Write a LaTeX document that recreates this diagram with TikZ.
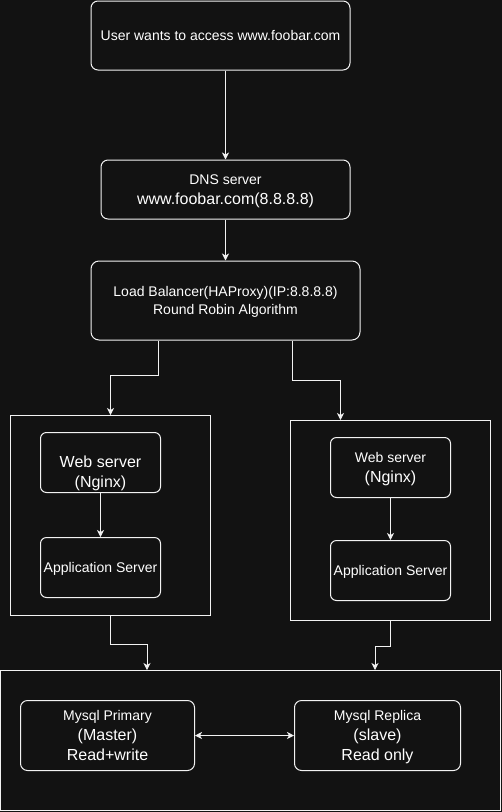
\documentclass[tikz,border=0pt]{standalone}
\usepackage{fontspec}
\setmainfont{Liberation Sans}
\usetikzlibrary{arrows.meta,calc}
\definecolor{bg}{HTML}{121212}
\definecolor{ln}{HTML}{F2F2F2}
\newcommand{\mystrut}{\rule[-0.2\baselineskip]{0pt}{\baselineskip}}
\newcommand{\fsA}{\fontsize{14}{16.8}\selectfont\mystrut}
\newcommand{\fsB}{\fontsize{16}{19.2}\selectfont\mystrut}
\begin{document}
\begin{tikzpicture}[x=1pt,y=-1pt,
  rbox/.style={draw=ln, line width=1pt, rounded corners=7pt, inner sep=0pt, text=white, align=center},
  sbox/.style={draw=ln, line width=1pt, inner sep=0pt},
  txt/.style={text=white, align=center, inner sep=0pt},
  conn/.style={draw=ln, line width=1pt, -{Stealth[length=7pt,width=7pt,inset=2pt]}},
  dconn/.style={draw=ln, line width=1pt, {Stealth[length=7pt,width=7pt,inset=2pt]}-{Stealth[length=7pt,width=7pt,inset=2pt]}}]
\fill[bg] (0,0) rectangle (502,812);
\useasboundingbox (0,0) rectangle (502,812);

\node[rbox, minimum width=259pt, minimum height=69pt] (user) at (220.5,35.5) {\fsA User wants to access www.foobar.com};
\node[rbox, minimum width=249pt, minimum height=59pt] (dns) at (225.5,189.5) {\fsA DNS server\\\fsB www.foobar.com(8.8.8.8)};
\node[rbox, rounded corners=8pt, minimum width=269pt, minimum height=79pt] (lb) at (225.5,300.5) {\fsA Load Balancer(HAProxy)(IP:8.8.8.8)\\\fsA Round Robin Algorithm};

\node[sbox, minimum width=200pt, minimum height=200pt] (lcont) at (110.5,515.5) {};
\node[rbox, rounded corners=6pt, minimum width=120pt, minimum height=60pt] (lweb) at (100.5,462.5) {};
\node[txt] (lwebt) at (100.5,472) {\fsB Web server\\\fsB (Nginx)};
\node[rbox, rounded corners=6pt, minimum width=120pt, minimum height=60pt] (lapp) at (100.5,567.5) {\fsA Application Server};

\node[sbox, minimum width=200pt, minimum height=200pt] (rcont) at (390.5,520.5) {};
\node[rbox, rounded corners=6pt, minimum width=120pt, minimum height=60pt] (rweb) at (390.5,467.5) {\fsA Web server\\\fsB (Nginx)};
\node[rbox, rounded corners=6pt, minimum width=120pt, minimum height=60pt] (rapp) at (390.5,570.5) {\fsA Application Server};

\node[sbox, minimum width=500pt, minimum height=140pt] (db) at (250.5,740.5) {};
\node[rbox, minimum width=174pt, minimum height=70pt] (prim) at (107.5,735.5) {\fsA Mysql Primary\\\fsB (Master)\\\fsB Read+write};
\node[rbox, minimum width=166pt, minimum height=70pt] (repl) at (377.5,735.5) {\fsA Mysql Replica\\\fsB (slave)\\\fsB Read only};

\draw[conn] (user.south -| dns.north) -- (dns.north);
\draw[conn] (dns.south) -- (lb.north);
\draw[conn] ([xshift=-67.5pt]lb.south) -- ++(0,35) -| (lcont.north);
\draw[conn] ([xshift=66.5pt]lb.south) -- ++(0,40) -| ([xshift=-50pt]rcont.north);
\draw[conn] (lweb.south) -- (lapp.north);
\draw[conn] (rweb.south) -- (rapp.north);
\draw[conn] (lcont.south) -- ++(0,28) -| ([xshift=-103.5pt]db.north);
\draw[conn] (rcont.south) -- ++(0,25) -| ([xshift=124.5pt]db.north);
\draw[dconn] (prim.east) -- (repl.west);
\end{tikzpicture}
\end{document}
